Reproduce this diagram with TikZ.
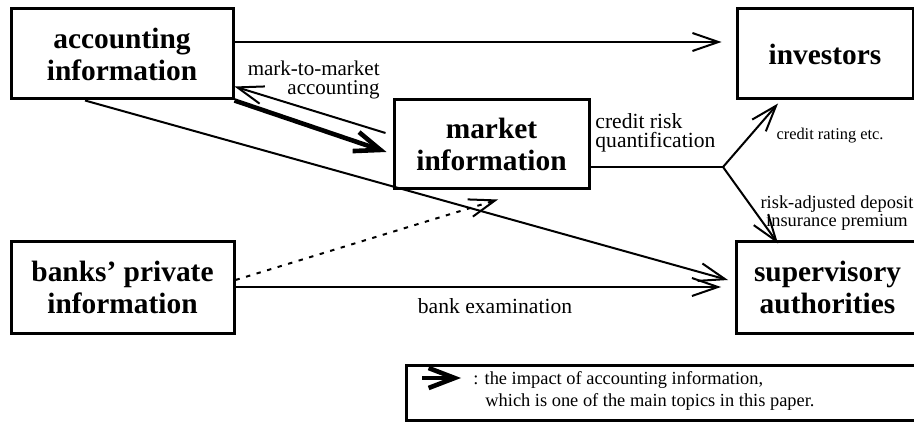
\documentclass[tikz,border=0pt]{standalone}
\usepackage{fontspec}
\setmainfont{Liberation Serif}
\usetikzlibrary{arrows.meta, positioning, calc}

\begin{document}
\begin{tikzpicture}[x=0.5pt, y=-0.5pt,
  box/.style={draw, line width=1.5pt, align=center, inner sep=0pt,
    font=\fontsize{14.7}{16}\selectfont\bfseries},
  lbl/.style={inner sep=0pt, font=\fontsize{10.5}{9.5}\selectfont},
  flow/.style={line width=1pt, -{Straight Barb[length=13pt, width=9pt]}},
  impact/.style={line width=2.3pt, -{Straight Barb[length=13pt, width=10pt]}},
  hidden/.style={flow, dash pattern=on 2.2pt off 3.3pt}]
\useasboundingbox (0,0) rectangle (914,422);
%boxes
  \node[box, minimum width=111pt, minimum height=45pt] (acc) at (122,54) {accounting\\information};
  \node[box, minimum width=88pt, minimum height=45pt] (inv) at (825,54) {investors};
  \node[box, minimum width=97.5pt, minimum height=44.5pt] (mkt) at (491.5,144.5) {market\\information};
  \node[box, minimum width=111.5pt, minimum height=46pt] (bank) at (122.5,287) {banks' private\\information};
  \node[box, minimum width=91pt, minimum height=46pt] (sup) at (827.5,287) {supervisory\\authorities};
  \coordinate (fork) at (723,167);
%links
  \draw[flow] ([yshift=6pt]acc.east) -- ([yshift=6pt, xshift=-7pt]inv.west);
  \draw[flow] ([xshift=-3.5pt, yshift=5.75pt]mkt.west) -- ([yshift=7pt]acc.south east);
  \draw[impact] (acc.south east) -- ([xshift=-3pt, yshift=-3.75pt]mkt.west);
  \draw[flow] ([xshift=-18.5pt]acc.south) -- ([xshift=-3.5pt, yshift=3.5pt]sup.west);
  \draw[flow] (bank.east) -- ([xshift=-7pt]sup.west);
  \draw[hidden] ([yshift=3.5pt]bank.east) -- ([xshift=3.25pt, yshift=-4.5pt]mkt.south);
  \draw[line width=1pt] (mkt.east |- fork) -- (fork);
  \draw[flow] (fork) -- ([xshift=-23.5pt, yshift=-1.5pt]inv.south);
  \draw[flow] (fork) -- ([xshift=-24.75pt, yshift=-2pt]sup.north);
%labels
  \node[lbl, align=right, anchor=east] (mtm) at (380,80) {mark-to-market\\accounting};
  \node[lbl, align=left, anchor=west, font=\fontsize{10.8}{9.3}\selectfont] (crq) at (595,133) {credit risk\\quantification};
  \node[lbl, font=\fontsize{8.2}{9}\selectfont] (rating) at (830,136) {credit rating etc.};
  \node[lbl, align=center, font=\fontsize{9.2}{9}\selectfont] (premium) at (837,213) {risk-adjusted deposit\\insurance premium};
  \node[lbl, font=\fontsize{10.8}{11}\selectfont] (exam) at (495,306) {bank examination};
%key
  \node[draw, line width=1.5pt, minimum width=256pt, minimum height=27.5pt, inner sep=0pt] (key) at (662,392.5) {};
  \coordinate (k1) at (422,378);
  \coordinate (k2) at (461,378);
  \draw[impact] (k1) -- (k2);
  \node[lbl, align=left, anchor=west, font=\fontsize{9.2}{10.8}\selectfont] (keytext) at (473,391)
    {: the impact of accounting information,\\\hspace*{6pt}which is one of the main topics in this paper.};
\end{tikzpicture}
\end{document}
